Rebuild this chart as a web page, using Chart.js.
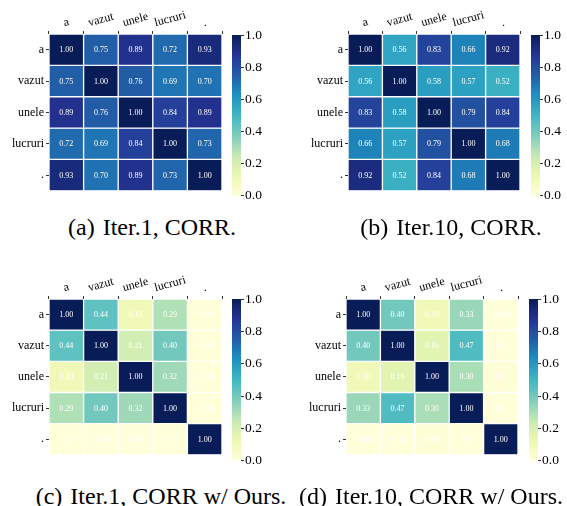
<!DOCTYPE html>
<html>
<head>
<meta charset="utf-8">
<script src="https://cdn.jsdelivr.net/npm/chart.js@4/dist/chart.umd.min.js"></script>
<style>
  body { margin: 0; background: #fff; }
  #wrap { position: relative; width: 567px; height: 506px; overflow: hidden; }
  canvas, .cap { position: absolute; }
  .cap { font-family: "Liberation Serif", serif; font-size: 24px; line-height: 24px; color: #000; white-space: nowrap; transform: translateX(-50%); }
  .cap span { margin-right: 8px; }
</style>
</head>
<body>
<div id="wrap"></div>
<script>
// tokens on both axes
const words = ['a', 'vazut', 'unele', 'lucruri', '.'];

// correlation matrices
const corrIter1 = [
  [1.00, 0.75, 0.89, 0.72, 0.93],
  [0.75, 1.00, 0.76, 0.69, 0.70],
  [0.89, 0.76, 1.00, 0.84, 0.89],
  [0.72, 0.69, 0.84, 1.00, 0.73],
  [0.93, 0.70, 0.89, 0.73, 1.00]
];
const corrIter10 = [
  [1.00, 0.56, 0.83, 0.66, 0.92],
  [0.56, 1.00, 0.58, 0.57, 0.52],
  [0.83, 0.58, 1.00, 0.79, 0.84],
  [0.66, 0.57, 0.79, 1.00, 0.68],
  [0.92, 0.52, 0.84, 0.68, 1.00]
];
const oursIter1 = [
  [1.00, 0.44, 0.10, 0.29, -0.02],
  [0.44, 1.00, 0.21, 0.40, -0.08],
  [0.10, 0.21, 1.00, 0.32, -0.02],
  [0.29, 0.40, 0.32, 1.00, -0.05],
  [-0.02, -0.08, -0.02, -0.05, 1.00]
];
const oursIter10 = [
  [1.00, 0.40, 0.10, 0.33, -0.06],
  [0.40, 1.00, 0.16, 0.47, -0.12],
  [0.10, 0.16, 1.00, 0.30, 0.01],
  [0.33, 0.47, 0.30, 1.00, -0.11],
  [-0.06, -0.12, 0.01, -0.11, 1.00]
];

const colorbarTicks = [0, 0.2, 0.4, 0.6, 0.8, 1.0];

// YlGnBu
const ylgnbu = ['#ffffd9', '#edf8b1', '#c7e9b4', '#7fcdbb', '#41b6c4', '#1d91c0', '#225ea8', '#253494', '#081d58'];

const FONT = '"Liberation Serif", "Times New Roman", serif';

function hexToRgb(h) {
  return [1, 3, 5].map(i => parseInt(h.slice(i, i + 2), 16));
}

function cmap(v) {
  v = Math.max(0, Math.min(1, v));
  const pos = v * (ylgnbu.length - 1);
  const i = Math.min(Math.floor(pos), ylgnbu.length - 2);
  const t = pos - i;
  const a = hexToRgb(ylgnbu[i]), b = hexToRgb(ylgnbu[i + 1]);
  const c = a.map((x, k) => Math.round(x + (b[k] - x) * t));
  return `rgb(${c[0]},${c[1]},${c[2]})`;
}

const wrap = document.getElementById('wrap');

function addCanvas(left, top, w, h) {
  const c = document.createElement('canvas');
  c.width = w; c.height = h;
  c.style.left = left + 'px'; c.style.top = top + 'px';
  c.style.width = w + 'px'; c.style.height = h + 'px';
  wrap.appendChild(c);
  return c;
}

// white numbers in the middle of each cell
const cellText = {
  id: 'cellText',
  afterDatasetsDraw(chart) {
    const ctx = chart.ctx;
    ctx.save();
    ctx.font = '8px ' + FONT;
    ctx.fillStyle = '#ffffff';
    ctx.textAlign = 'center';
    ctx.textBaseline = 'middle';
    chart.data.datasets.forEach((ds, di) => {
      chart.getDatasetMeta(di).data.forEach((bar, i) => {
        ctx.fillText(ds.values[i].toFixed(2), bar.x, (bar.y + bar.base) / 2 + 0.5);
      });
    });
    ctx.restore();
  }
};

// rotated column labels, centred over their ticks
const topLabels = {
  id: 'topLabels',
  afterDraw(chart) {
    const ctx = chart.ctx;
    const sx = chart.scales.x;
    const ang = 15 * Math.PI / 180;
    ctx.save();
    ctx.font = '12px ' + FONT;
    ctx.fillStyle = '#000';
    ctx.textAlign = 'center';
    ctx.textBaseline = 'middle';
    chart.data.labels.forEach((lab, i) => {
      const px = sx.getPixelForTick(i);
      const w = ctx.measureText(lab).width;
      const h = w * Math.sin(ang) + 10 * Math.cos(ang);
      const cy = chart.chartArea.top - 6 - h / 2;
      ctx.save();
      ctx.translate(px, cy);
      ctx.rotate(-ang);
      ctx.fillText(lab, 0, 0);
      ctx.restore();
    });
    ctx.restore();
  }
};

function heatmap(hx, hy, w, h, matrix) {
  const padL = 49, padT = 34;
  const canvas = addCanvas(hx - padL, hy - padT, padL + w + 4, padT + h + 4);
  const datasets = matrix.map((row, r) => ({
    data: row.map(() => [r, r + 1]),
    values: row,
    backgroundColor: row.map(cmap),
    borderColor: '#ffffff',
    borderWidth: 1,
    borderSkipped: false,
    grouped: false,
    barPercentage: 1,
    categoryPercentage: 1
  }));
  return new Chart(canvas, {
    type: 'bar',
    data: { labels: words, datasets },
    options: {
      responsive: false,
      animation: false,
      devicePixelRatio: 1,
      layout: { padding: { left: 0, top: 0, right: 4, bottom: 4 } },
      plugins: { legend: { display: false }, tooltip: { enabled: false } },
      scales: {
        x: {
          type: 'category',
          position: 'top',
          grid: { drawOnChartArea: false, tickLength: 3, color: '#333', tickWidth: 1 },
          border: { display: false },
          ticks: { color: 'rgba(0,0,0,0)', autoSkip: false, maxRotation: 0, minRotation: 0 },
          afterFit: s => { s.height = padT; }
        },
        y: {
          type: 'linear',
          min: 0,
          max: words.length,
          reverse: true,
          grid: { drawOnChartArea: false, tickLength: 3, color: '#333' },
          border: { display: false },
          ticks: {
            font: { family: FONT, size: 12 },
            color: '#000',
            padding: 2,
            callback: (v, i) => words[i]
          },
          afterBuildTicks: s => { s.ticks = words.map((_, i) => ({ value: i + 0.5 })); },
          afterFit: s => { s.width = padL; }
        }
      }
    },
    plugins: [cellText, topLabels]
  });
}

function colorbar(cx, cy, w, h) {
  const padL = 7, padT = 8, axisW = 34;
  const canvas = addCanvas(cx - padL, cy - padT, padL + w + axisW, padT + h + 8);
  return new Chart(canvas, {
    type: 'bar',
    data: {
      labels: [''],
      datasets: [{
        data: [[0, 1]],
        backgroundColor: ctx => {
          const area = ctx.chart.chartArea;
          if (!area) return ylgnbu[4];
          const g = ctx.chart.ctx.createLinearGradient(0, area.bottom, 0, area.top);
          ylgnbu.forEach((c, i) => g.addColorStop(i / (ylgnbu.length - 1), c));
          return g;
        },
        borderWidth: 0,
        barPercentage: 1,
        categoryPercentage: 1
      }]
    },
    options: {
      responsive: false,
      animation: false,
      devicePixelRatio: 1,
      layout: { padding: { left: padL, top: padT, right: 0, bottom: 8 } },
      plugins: { legend: { display: false }, tooltip: { enabled: false } },
      scales: {
        x: { display: false },
        y: {
          position: 'right',
          min: 0,
          max: 1,
          grid: { drawOnChartArea: false, tickLength: 3, color: '#333' },
          border: { display: false },
          ticks: {
            font: { family: FONT, size: 13.5 },
            color: '#000',
            padding: 1,
            callback: v => v.toFixed(1)
          },
          afterBuildTicks: s => { s.ticks = colorbarTicks.map(v => ({ value: v })); },
          afterFit: s => { s.width = axisW; }
        }
      }
    }
  });
}

function caption(html, centerX, top) {
  const d = document.createElement('div');
  d.className = 'cap';
  d.innerHTML = html;
  d.style.left = centerX + 'px';
  d.style.top = top + 'px';
  wrap.appendChild(d);
}

// (a)
heatmap(49, 34, 173, 162, corrIter1);
colorbar(232, 34, 9, 163);
caption('<span>(a)</span>Iter.1, CORR.', 152, 215);

// (b)
heatmap(348, 34, 172, 162, corrIter10);
colorbar(531, 34, 9, 163);
caption('<span>(b)</span>Iter.10, CORR.', 451, 215);

// (c)
heatmap(49, 299, 173, 161, oursIter1);
colorbar(232, 298, 9, 164);
caption('<span>(c)</span>Iter.1, CORR w/ Ours.', 161, 484);

// (d)
heatmap(346, 299, 172, 161, oursIter10);
colorbar(529, 298, 9, 164);
caption('<span>(d)</span>Iter.10, CORR w/ Ours.', 431, 484);
</script>
</body>
</html>
